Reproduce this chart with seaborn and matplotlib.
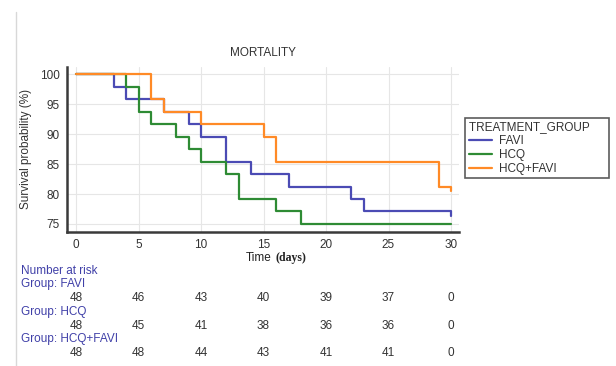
import matplotlib
matplotlib.use("Agg")
import matplotlib.pyplot as plt
from matplotlib.lines import Line2D
import matplotlib.transforms as mtransforms
import seaborn as sns
import pandas as pd

# ---- data ----
groups = ["FAVI", "HCQ", "HCQ+FAVI"]
favi_time = [0, 3, 4, 7, 9, 10, 12, 14, 17, 22, 23, 30, 30]
favi_surv = [100, 97.9, 95.8, 93.75, 91.7, 89.6, 85.4, 83.3, 81.25, 79.2, 77.1, 77.1, 76.3]
hcq_time = [0, 4, 5, 6, 8, 9, 10, 12, 13, 16, 18, 30]
hcq_surv = [100, 97.9, 93.75, 91.7, 89.6, 87.5, 85.4, 83.3, 79.2, 77.1, 75.0, 75.0]
combo_time = [0, 6, 7, 10, 15, 16, 29, 30, 30]
combo_surv = [100, 95.8, 93.75, 91.7, 89.6, 85.4, 81.25, 81.25, 80.5]

risk_times = [0, 5, 10, 15, 20, 25, 30]
risk_favi = [48, 46, 43, 40, 39, 37, 0]
risk_hcq = [48, 45, 41, 38, 36, 36, 0]
risk_combo = [48, 48, 44, 43, 41, 41, 0]

x_ticks = [0, 5, 10, 15, 20, 25, 30]
y_ticks = [75, 80, 85, 90, 95, 100]

colors = {"FAVI": "#4B4BB4", "HCQ": "#2E8B34", "HCQ+FAVI": "#FF8A26"}

rows = []
for g, ts, ss in [("FAVI", favi_time, favi_surv), ("HCQ", hcq_time, hcq_surv),
                  ("HCQ+FAVI", combo_time, combo_surv)]:
    for t, s in zip(ts, ss):
        rows.append({"time": t, "surv": s, "TREATMENT_GROUP": g})
df = pd.DataFrame(rows)

sns.set_style("white")
plt.rcParams["font.family"] = ["Liberation Sans", "DejaVu Sans"]

W, H = 616, 366
fig = plt.figure(figsize=(W / 100, H / 100), dpi=100)
ax = fig.add_axes([67 / W, 1 - 232 / H, (459 - 67) / W, (232 - 67) / H])

sns.lineplot(data=df, x="time", y="surv", hue="TREATMENT_GROUP", hue_order=groups,
             palette=colors, drawstyle="steps-post", estimator=None, sort=False,
             linewidth=1.6, ax=ax)

ax.set_xlim(-0.72, 30.64)
ax.set_ylim(73.66, 101.22)
ax.set_xticks(x_ticks)
ax.set_yticks(y_ticks)
ax.grid(True, color="#E6E6E6", linewidth=0.8)
ax.set_axisbelow(True)
for s in ["top", "right"]:
    ax.spines[s].set_visible(False)
for s in ["left", "bottom"]:
    ax.spines[s].set_color("#3A3A3A")
    ax.spines[s].set_linewidth(1.8)
ax.tick_params(direction="in", length=4, width=1.2, color="#3A3A3A",
               labelsize=8.5, labelcolor="#333333", pad=5)
ax.set_xlabel("")
ax.set_ylabel("")

ax.set_title("MORTALITY", fontsize=8.5, color="#333333", pad=8)
fig.text(26 / W, 1 - 149 / H, "Survival probability (%)", rotation=90,
         ha="center", va="center", fontsize=8.5, color="#333333")
fig.text(272 / W, 1 - 258 / H, "Time", ha="right", va="center",
         fontsize=8.5, color="#222222")
fig.text(275 / W, 1 - 258 / H, "(days)", ha="left", va="center",
         fontsize=8.5, color="#222222", family="Liberation Serif", weight="bold")

leg = ax.legend(title="TREATMENT_GROUP     ", loc="upper left",
                bbox_to_anchor=(465 / W, 1 - 118 / H), bbox_transform=fig.transFigure,
                fontsize=8.5, title_fontsize=8.5, frameon=True, fancybox=False,
                borderaxespad=0, handlelength=2.0, handletextpad=0.6,
                labelspacing=0.15, borderpad=0.3)
leg.get_frame().set_edgecolor("#333333")
leg.get_frame().set_linewidth(1.2)
leg._legend_box.align = "left"
for t in leg.get_texts():
    t.set_color("#333333")
leg.get_title().set_color("#333333")

# number at risk table
blue_txt = "#4040A8"
trans = mtransforms.blended_transform_factory(ax.transData, fig.transFigure)
fig.text(21 / W, 1 - 271 / H, "Number at risk", ha="left", va="center",
         fontsize=8.5, color=blue_txt)
labels_y = [284, 312, 339]
nums_y = [298, 326, 353]
for gname, ly, ny, vals in zip(groups, labels_y, nums_y, [risk_favi, risk_hcq, risk_combo]):
    fig.text(21 / W, 1 - ly / H, "Group: " + gname, ha="left", va="center",
             fontsize=8.5, color=blue_txt)
    for t, v in zip(risk_times, vals):
        ax.text(t, 1 - ny / H, str(v), transform=trans, ha="center", va="center",
                fontsize=8.5, color="#333333", clip_on=False)

fig.add_artist(Line2D([16 / W, 16 / W], [0, 1 - 12 / H], transform=fig.transFigure,
                      color="#D8D8D8", linewidth=1.0))

fig.savefig("out.png", dpi=100)
